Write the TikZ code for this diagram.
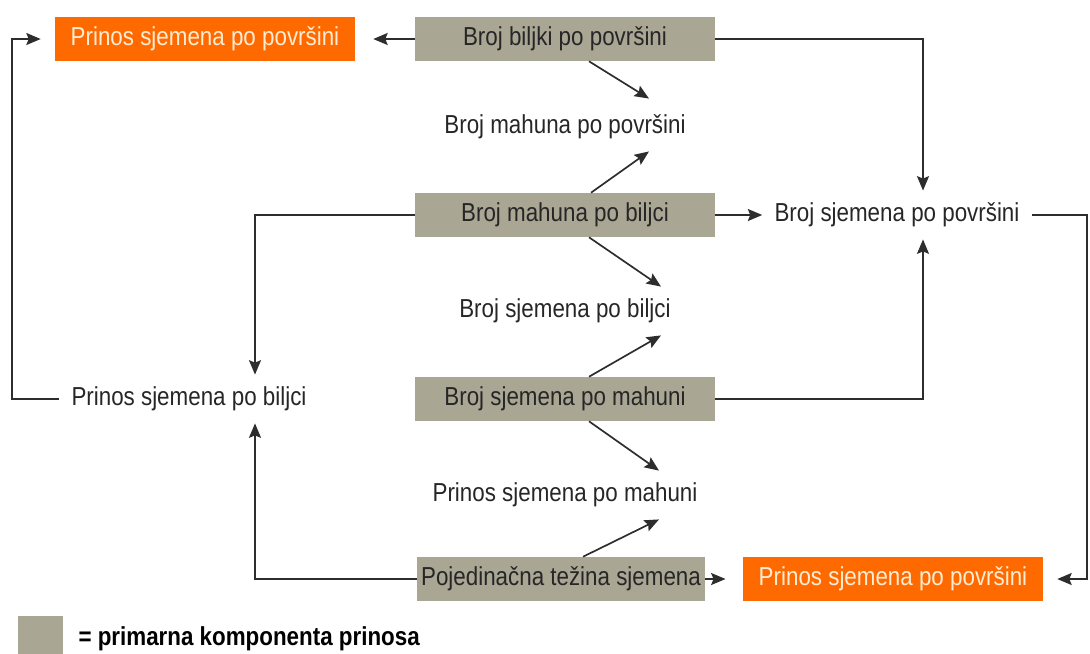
\documentclass[tikz,border=0pt]{standalone}
\usepackage{fontspec}
\setmainfont[FakeStretch=0.86]{Liberation Sans}
\usepackage{tikz}
\usetikzlibrary{shapes.geometric, arrows.meta}
\definecolor{boxgray}{RGB}{170,166,148}
\definecolor{boxorange}{RGB}{255,106,0}
\definecolor{paletext}{RGB}{255,236,210}
\definecolor{linegray}{RGB}{45,45,45}
\tikzstyle{primary} = [rectangle, minimum width=7.5cm, minimum height=1.1cm, text centered, fill=boxgray, text=black!85]
\tikzstyle{yield} = [rectangle, minimum width=7.5cm, minimum height=1.1cm, text centered, fill=boxorange, text=paletext]
\tikzstyle{derived} = [rectangle, inner sep=0.3cm, text centered, text=black!85]
\tikzstyle{arrow} = [line width=1.2pt, draw=linegray, ->, >={Stealth[length=0.36cm, width=0.3cm, inset=0.06cm]}]

\begin{document}
\begin{tikzpicture}[node distance=2.2cm, font=\fontsize{18.5}{21}\selectfont]
	\useasboundingbox (-14.125,0.975) rectangle (13.125,-15.35);

		% Draw the nodes
		\node (bbp) [primary] {Broj biljki po površini};
		\node (topyield) [yield, left of=bbp, xshift=-6.8cm] {Prinos sjemena po površini};
		\node (mpp) [derived, below of=bbp] {Broj mahuna po površini};
		\node (mpb) [primary, below of=mpp] {Broj mahuna po biljci};
		\node (bsp) [derived, right of=mpb, xshift=6.1cm] {Broj sjemena po površini};
		\node (spb) [derived, below of=mpb, yshift=-0.2cm] {Broj sjemena po biljci};
		\node (spm) [primary, below of=spb] {Broj sjemena po mahuni};
		\node (psb) [derived, left of=spm, xshift=-7.2cm] {Prinos sjemena po biljci};
		\node (prm) [derived, below of=spm, yshift=-0.2cm] {Prinos sjemena po mahuni};
		\node (ptz) [primary, below of=prm, yshift=0.1cm, xshift=-0.1cm, minimum width=7.175cm, inner xsep=0.05cm] {Pojedinačna težina sjemena};
		\node (botyield) [yield, right of=ptz, xshift=6.1cm] {Prinos sjemena po površini};
		\coordinate (lturn) at ([xshift=-4.825cm]topyield.center);
		\coordinate (rturn) at ([xshift=4.85cm]botyield.center);
		% legend
		\node (legendbox) [fill=boxgray, minimum width=1.125cm, minimum height=1.125cm] at (-13.1125,-14.9875) {};
		\node (legendtext) [anchor=west, xshift=0.375cm, inner sep=0, font=\fontsize{18.5}{21}\selectfont\bfseries] at (legendbox.east) {= primarna komponenta prinosa};

		%Draw the arrows
		\draw [arrow, shorten >=0.45cm] (bbp) -- (topyield);
		\draw [arrow] (bbp) -| ([xshift=0.65cm]bsp.north);
		\draw [arrow] ([xshift=0.6cm]bbp.south) -- ([xshift=2.1cm,yshift=0.1cm]mpp.north);
		\draw [arrow] ([xshift=0.65cm]mpb.north) -- ([xshift=2.1cm]mpp.south);
		\draw [arrow] (mpb) -- (bsp);
		\draw [arrow] (mpb) -| ([xshift=1.65cm]psb.north);
		\draw [arrow] ([xshift=0.6cm]mpb.south) -- ([xshift=2.4cm]spb.north);
		\draw [arrow] ([xshift=0.6cm]spm.north) -- ([xshift=2.4cm]spb.south);
		\draw [arrow] (spm) -| ([xshift=0.65cm]bsp.south);
		\draw [arrow] ([xshift=0.6cm]spm.south) -- ([xshift=2.35cm]prm.north);
		\draw [arrow] ([xshift=0.55cm]ptz.north) -- ([xshift=2.35cm]prm.south);
		\draw [arrow] (ptz) -| ([xshift=1.65cm]psb.south);
		\draw [arrow, shorten >=0.43cm] (ptz) -- (botyield);
		\draw [arrow, shorten >=0.35cm] (psb) -| (lturn) -- (topyield);
		\draw [arrow, shorten >=0.35cm] (bsp) -| (rturn) -- (botyield);

	\end{tikzpicture}
\end{document}
